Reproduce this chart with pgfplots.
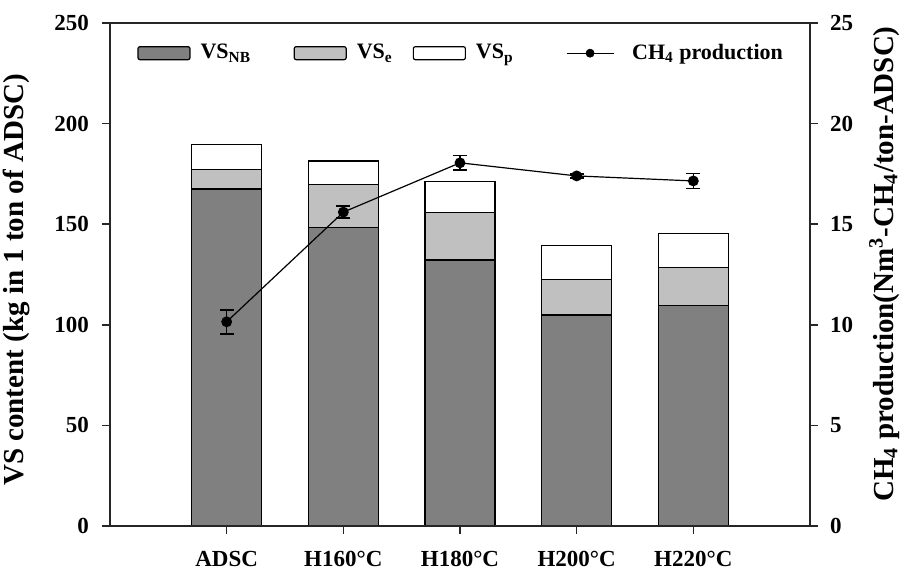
\documentclass[border=0pt]{standalone}
\usepackage{pgfplots}
\pgfplotsset{compat=1.18}
\usepackage{fontspec}
\setmainfont{Liberation Serif}
\definecolor{darkbar}{RGB}{128,128,128}
\definecolor{lightbar}{RGB}{192,192,192}
\begin{document}
\begin{tikzpicture}
\pgfplotsset{
  common/.style={
    width=350pt, height=251.5pt, scale only axis,
    xmin=-1, xmax=5, ymin=0,
    tick align=outside, major tick length=4pt,
    axis line style={line width=0.75pt, black!85},
    tick style={line width=0.75pt, black!85},
    tick label style={font=\fontsize{11.5}{13}\selectfont\bfseries},
    label style={font=\fontsize{14.5}{17}\selectfont\bfseries},
    /pgf/number format/assume math mode=true,
  },
  barleg/.style={legend image code/.code={\draw[##1, line width=0.6pt, rounded corners=1pt] (0pt,-3.25pt) rectangle (26pt,3.25pt);}},
  lineleg/.style={legend image code/.code={\draw[black, line width=0.6pt] (0pt,0pt) -- (23.5pt,0pt); \fill[black] (11.75pt,0pt) circle (2pt);}},
}
\begin{axis}[common,
  ymax=250, ytick={0,50,...,250}, ytick pos=left,
  xtick={0,...,4}, xticklabels={ADSC,H160°C,H180°C,H200°C,H220°C}, xtick pos=bottom,
  yticklabel style={xshift=-3pt},
  xticklabel style={yshift=-5pt},
  ybar stacked, bar width=0.6,
  ylabel={VS content (kg in 1 ton of ADSC)},
  ylabel style={at={(axis description cs:-0.133,0.489)}, anchor=center},
  legend columns=4,
  legend style={at={(axis description cs:0.03,0.94)}, anchor=west, draw=none, fill=none,
    column sep=0pt, font=\fontsize{11}{13}\selectfont\bfseries, nodes={inner sep=0pt, anchor=west}},
]
\addplot[fill=darkbar, draw=black, line width=0.6pt, barleg] coordinates {(0,167.5) (1,148.5) (2,132.2) (3,104.9) (4,109.5)};
\addlegendentry{\hspace*{5pt}\makebox[46.5pt][l]{VS\textsubscript{NB}}}
\addplot[fill=lightbar, draw=black, line width=0.6pt, barleg] coordinates {(0,9.8) (1,21.3) (2,23.6) (3,17.7) (4,19.1)};
\addlegendentry{\hspace*{5pt}\makebox[28pt][l]{VS\textsubscript{e}}}
\addplot[fill=white, draw=black, line width=0.6pt, barleg] coordinates {(0,12.4) (1,11.6) (2,15.3) (3,16.9) (4,16.9)};
\addlegendentry{\hspace*{5pt}\makebox[45pt][l]{VS\textsubscript{p}}}
\addlegendimage{lineleg}
\addlegendentry{\hspace*{9pt}CH\textsubscript{4} production}
\end{axis}
\begin{axis}[common,
  ymax=25, ytick={0,5,...,25},
  axis y line*=right, axis x line=none,
  yticklabel style={xshift=2.5pt},
  ylabel={CH\textsubscript{4} production(Nm\textsuperscript{3}-CH\textsubscript{4}/ton-ADSC)},
  ylabel style={at={(axis description cs:1.106,0.521)}, anchor=center},
]
\addplot[black, line width=0.6pt, mark=*, mark size=2.4pt,
  error bars/.cd, y dir=both, y explicit,
  error bar style={line width=0.8pt, black},
  error mark options={rotate=90, line width=0.8pt, black, mark size=3.5pt}]
  coordinates {(0,10.15) +- (0,0.6) (1,15.6) +- (0,0.3) (2,18.05) +- (0,0.37) (3,17.4) +- (0,0.1) (4,17.15) +- (0,0.37)};
\end{axis}
\draw[line width=0.75pt, black!85] (-4pt,0pt) -- (354pt,0pt);
\draw[line width=0.75pt, black!85] (-4pt,251.5pt) -- (354pt,251.5pt);
\pgfresetboundingbox
\useasboundingbox (-55pt,-22pt) rectangle (396pt,263pt);
\end{tikzpicture}
\end{document}
